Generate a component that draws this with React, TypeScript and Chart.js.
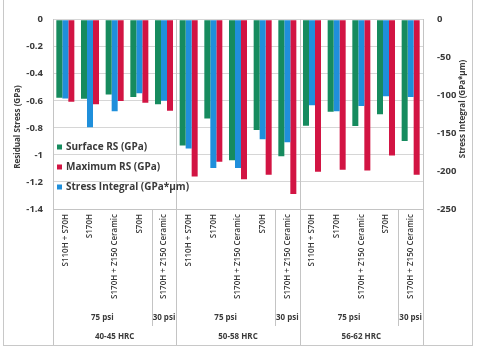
import React, { useEffect, useRef } from "react";
import { Chart, registerables } from "chart.js";

Chart.register(...registerables);

const categories = [
  "S110H + S70H", "S170H", "S170H + Z150 Ceramic", "S70H", "S170H + Z150 Ceramic",
  "S110H + S70H", "S170H", "S170H + Z150 Ceramic", "S70H", "S170H + Z150 Ceramic",
  "S110H + S70H", "S170H", "S170H + Z150 Ceramic", "S70H", "S170H + Z150 Ceramic",
];
const pressureLabels = ["75 psi", "30 psi", "75 psi", "30 psi", "75 psi", "30 psi"];
const pressureSpans = [4, 1, 4, 1, 4, 1];
const hardnessLabels = ["40-45 HRC", "50-58 HRC", "56-62 HRC"];
const hardnessSpans = [5, 5, 5];

const surfaceRS = [-0.578, -0.585, -0.554, -0.571, -0.625, -0.93, -0.73, -1.04, -0.815, -1.01, -0.785, -0.68, -0.786, -0.7, -0.898];
const maximumRS = [-0.606, -0.625, -0.602, -0.614, -0.673, -1.16, -1.05, -1.18, -1.147, -1.289, -1.125, -1.11, -1.115, -1.005, -1.147];
const stressIntegral = [-104, -142, -121, -97, -107, -170, -196, -196, -158, -162, -113, -121, -114, -101, -102];

const leftTitle = "Residual Stress (GPa)";
const rightTitle = "Stress Integral (GPa*µm)";

const GREEN = "#168b5e";
const RED = "#d21443";
const BLUE = "#1f8fdb";
const TEXT = "#3a3a3a";
const LINE = "#c4c4c4";
const FONT = "'Open Sans', 'DejaVu Sans', sans-serif";

const decorPlugin = {
  id: "decor",
  beforeDraw(chart: any) {
    const ctx = chart.ctx;
    ctx.save();
    ctx.strokeStyle = "#c8c8c8";
    ctx.lineWidth = 1;
    ctx.strokeRect(3.5, -1.5, 469, 347);
    ctx.restore();
  },
  afterDraw(chart: any) {
    const ctx = chart.ctx;
    const x = chart.scales.x;
    const area = chart.chartArea;
    const edge = (i: number) => Math.round(x.getPixelForValue(i - 0.5)) + 0.5;
    ctx.save();
    ctx.strokeStyle = LINE;
    ctx.lineWidth = 1;
    let idx = 0;
    const hardEdges = [0];
    hardnessSpans.forEach((s) => { idx += s; hardEdges.push(idx); });
    hardEdges.forEach((e) => {
      const px = edge(e);
      ctx.beginPath();
      ctx.moveTo(px, area.top);
      ctx.lineTo(px, 345);
      ctx.stroke();
    });
    idx = 0;
    pressureSpans.forEach((s) => {
      idx += s;
      if (hardEdges.indexOf(idx) === -1) {
        const px = edge(idx);
        ctx.beginPath();
        ctx.moveTo(px, area.bottom);
        ctx.lineTo(px, 326);
        ctx.stroke();
      }
    });
    ctx.fillStyle = TEXT;
    ctx.font = `bold 8px ${FONT}`;
    ctx.textAlign = "center";
    ctx.textBaseline = "middle";
    idx = 0;
    pressureSpans.forEach((s, k) => {
      const cx = (x.getPixelForValue(idx - 0.5) + x.getPixelForValue(idx + s - 0.5)) / 2;
      ctx.fillText(pressureLabels[k], cx, 318);
      idx += s;
    });
    idx = 0;
    hardnessSpans.forEach((s, k) => {
      const cx = (x.getPixelForValue(idx - 0.5) + x.getPixelForValue(idx + s - 0.5)) / 2;
      ctx.fillText(hardnessLabels[k], cx, 337);
      idx += s;
    });
    ctx.font = `bold 8px ${FONT}`;
    ctx.save();
    ctx.translate(18, 127);
    ctx.rotate(-Math.PI / 2);
    ctx.fillText(leftTitle, 0, 0);
    ctx.restore();
    ctx.save();
    ctx.translate(463, 109);
    ctx.rotate(-Math.PI / 2);
    ctx.fillText(rightTitle, 0, 0);
    ctx.restore();
    ctx.font = `bold 10px ${FONT}`;
    ctx.textAlign = "left";
    const ys = [147, 167, 187];
    chart.data.datasets.map((d: any, i: number) => ({ d, i }))
      .sort((a: any, b: any) => a.d.legendOrder - b.d.legendOrder)
      .forEach((o: any, k: number) => {
        ctx.fillStyle = o.d.backgroundColor;
        ctx.fillRect(57, ys[k] - 2.5, 5, 5);
        ctx.fillStyle = TEXT;
        ctx.fillText(o.d.label, 66, ys[k] + 0.5);
      });
    ctx.restore();
  },
};

export default function App() {
  const ref = useRef<HTMLCanvasElement | null>(null);
  useEffect(() => {
    document.body.style.margin = "0";
    const canvas = ref.current;
    if (!canvas) return;
    const chart = new Chart(canvas, {
      type: "bar",
      data: {
        labels: categories,
        datasets: [
          { label: "Surface RS (GPa)", data: surfaceRS, backgroundColor: GREEN, yAxisID: "y", legendOrder: 0 } as any,
          { label: "Stress Integral (GPa*µm)", data: stressIntegral, backgroundColor: BLUE, yAxisID: "y1", legendOrder: 2 } as any,
          { label: "Maximum RS (GPa)", data: maximumRS, backgroundColor: RED, yAxisID: "y", legendOrder: 1 } as any,
        ],
      },
      options: {
        animation: false,
        responsive: true,
        maintainAspectRatio: false,
        datasets: { bar: { categoryPercentage: 0.73, barPercentage: 1 } },
        layout: { padding: { top: 12, left: 0, right: 0, bottom: 0 } },
        plugins: { legend: { display: false }, tooltip: { enabled: false } },
        scales: {
          x: {
            type: "category",
            grid: { display: false, drawTicks: false },
            border: { display: true, color: LINE },
            ticks: {
              autoSkip: false,
              minRotation: 90,
              maxRotation: 90,
              padding: 5,
              color: TEXT,
              font: { family: FONT, size: 8, weight: "600" },
            },
            afterFit: (s: any) => { s.height = 142; },
          },
          y: {
            position: "left",
            min: -1.4,
            max: 0,
            grid: { color: "#d6d6d6", drawTicks: false },
            border: { display: true, color: LINE },
            ticks: {
              stepSize: 0.2,
              padding: 10,
              color: TEXT,
              font: { family: FONT, size: 9.5, weight: "bold" },
              callback: (v: any) => String(Number(Number(v).toFixed(1))),
            },
            afterFit: (s: any) => { s.width = 53; },
          },
          y1: {
            position: "right",
            min: -250,
            max: 0,
            grid: { drawOnChartArea: false, drawTicks: false },
            border: { display: true, color: LINE },
            ticks: {
              stepSize: 50,
              padding: 14,
              color: TEXT,
              font: { family: FONT, size: 9.5, weight: "bold" },
            },
            afterFit: (s: any) => { s.width = 56; },
          },
        },
      } as any,
      plugins: [decorPlugin],
    });
    return () => chart.destroy();
  }, []);
  return (
    <div style={{ width: 479, height: 351, position: "relative", background: "#fff" }}>
      <canvas ref={ref} />
    </div>
  );
}
